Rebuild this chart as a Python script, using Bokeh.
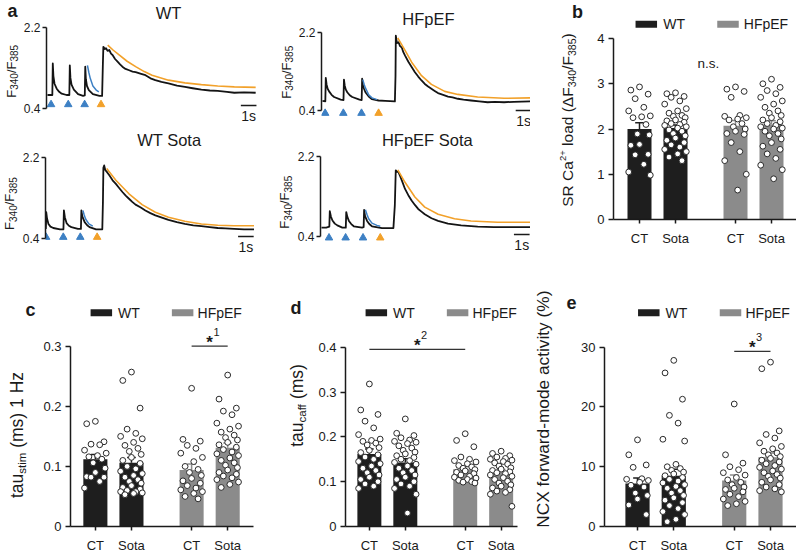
import math
from bokeh.plotting import figure
from bokeh.models import Range1d, FixedTicker, Label, NumeralTickFormatter
from bokeh.layouts import row, column
from bokeh.embed import file_html
from bokeh.resources import INLINE

# ======================= DATA =======================
GROUPS = ["WT", "HFpEF"]
TICK_LABELS = ["CT", "Sota", "CT", "Sota"]

# ---- panel a: Fura-2 ratio traces (time in s, ratio F340/F385) ----
WT_T = [0.00, 0.31, 0.34, 0.38, 0.45, 0.59, 0.75, 0.91, 1.22, 1.40,
        1.43, 1.47, 1.54, 1.69, 1.96, 2.28, 2.39, 2.42, 2.46, 2.53,
        2.65, 2.91, 3.33, 3.50, 3.55, 3.58, 3.67, 3.75, 3.85, 3.96,
        4.07, 4.17, 4.33, 4.49, 4.65, 4.80, 5.00, 5.23, 5.45, 5.65,
        6.00, 6.28, 6.60, 6.91, 7.30, 7.75, 8.30, 8.81, 9.30, 9.86,
        10.40, 10.91, 11.50, 11.97, 12.60, 13.34]
WT_R = [0.70, 0.70, 1.40, 1.12, 0.95, 0.84, 0.77, 0.73, 0.70, 0.70,
        1.36, 1.08, 0.93, 0.82, 0.72, 0.68, 0.69, 1.33, 1.05, 0.90,
        0.81, 0.72, 0.68, 0.68, 1.40, 1.77, 1.72, 1.74, 1.68, 1.70,
        1.62, 1.59, 1.50, 1.44, 1.38, 1.33, 1.28, 1.25, 1.22, 1.21,
        1.17, 1.14, 1.07, 1.03, 0.99, 0.96, 0.91, 0.88, 0.85, 0.82,
        0.80, 0.79, 0.77, 0.75, 0.76, 0.75]
WT_FIT1_T = [2.56, 2.65, 2.74, 2.91, 3.12, 3.29]
WT_FIT1_R = [1.36, 1.20, 1.07, 0.90, 0.81, 0.77]
WT_FIT2_T = [3.86, 4.20, 4.59, 5.10, 5.65, 6.20, 6.70, 7.75, 8.81, 9.86, 10.91, 11.97, 13.34]
WT_FIT2_R = [1.81, 1.70, 1.59, 1.45, 1.33, 1.22, 1.14, 1.03, 0.97, 0.93, 0.90, 0.88, 0.87]
WT_STIM = [0.23, 1.33, 2.38]
WT_CAFF = [3.43]

HF_T = [0.00, 0.18, 0.21, 0.26, 0.33, 0.42, 0.58, 0.74, 1.16, 1.34,
        1.37, 1.42, 1.49, 1.58, 1.74, 1.90, 2.36, 2.50, 2.53, 2.58,
        2.65, 2.74, 2.95, 3.16, 3.58, 4.00, 4.62, 4.66, 4.68, 4.75,
        4.85, 4.95, 5.06, 5.16, 5.27, 5.48, 5.69, 5.90, 6.11, 6.32,
        6.53, 6.74, 6.95, 7.16, 7.37, 7.70, 8.01, 8.30, 8.64, 9.00,
        9.48, 10.00, 10.54, 11.00, 11.59, 12.20, 13.30]
HF_R = [0.62, 0.61, 1.15, 1.00, 0.90, 0.84, 0.76, 0.71, 0.65, 0.64,
        1.11, 0.97, 0.88, 0.82, 0.75, 0.71, 0.65, 0.64, 1.13, 0.98,
        0.90, 0.82, 0.72, 0.66, 0.63, 0.62, 0.61, 1.20, 2.12, 1.95,
        1.97, 1.88, 1.85, 1.74, 1.66, 1.52, 1.40, 1.28, 1.18, 1.09,
        1.01, 0.95, 0.90, 0.85, 0.80, 0.76, 0.72, 0.70, 0.67, 0.65,
        0.63, 0.61, 0.59, 0.60, 0.59, 0.60, 0.61]
HF_FIT1_T = [2.57, 2.66, 2.74, 2.95, 3.16, 3.48]
HF_FIT1_R = [1.11, 1.00, 0.92, 0.76, 0.69, 0.65]
HF_FIT2_T = [4.80, 5.27, 5.69, 6.32, 6.95, 7.80, 8.64, 9.90, 11.59, 13.30]
HF_FIT2_R = [2.07, 1.78, 1.51, 1.20, 1.00, 0.84, 0.77, 0.71, 0.68, 0.69]
HF_STIM = [0.17, 1.33, 2.49]
HF_CAFF = [3.58]

WTS_T = [0.00, 0.01, 0.03, 0.08, 0.17, 0.30, 0.48, 0.91, 1.13, 1.16,
         1.22, 1.33, 1.48, 1.64, 2.06, 2.25, 2.28, 2.34, 2.49, 2.65,
         2.80, 3.22, 3.62, 3.66, 3.69, 3.74, 3.81, 3.95, 4.07, 4.28,
         4.49, 4.70, 4.91, 5.12, 5.33, 5.54, 5.75, 6.06, 6.38, 6.70,
         7.02, 7.44, 7.86, 8.40, 8.91, 9.45, 9.97, 10.50, 11.02, 11.50,
         12.07, 12.70, 13.34]
WTS_R = [0.62, 0.70, 0.99, 0.85, 0.73, 0.67, 0.64, 0.61, 0.61, 1.03,
         0.88, 0.75, 0.69, 0.66, 0.62, 0.62, 1.03, 0.90, 0.77, 0.70,
         0.66, 0.61, 0.61, 1.20, 1.98, 2.03, 1.93, 1.87, 1.81, 1.70,
         1.62, 1.53, 1.44, 1.36, 1.29, 1.22, 1.16, 1.10, 1.03, 0.97,
         0.92, 0.87, 0.82, 0.77, 0.73, 0.70, 0.68, 0.66, 0.64, 0.63,
         0.62, 0.61, 0.61]
WTS_FIT1_T = [2.38, 2.46, 2.55, 2.76, 3.01]
WTS_FIT1_R = [1.03, 0.93, 0.84, 0.73, 0.68]
WTS_FIT2_T = [3.90, 4.49, 5.33, 6.17, 7.02, 7.86, 8.91, 9.97, 11.02, 12.07, 13.34]
WTS_FIT2_R = [1.96, 1.70, 1.40, 1.16, 0.99, 0.88, 0.79, 0.73, 0.70, 0.69, 0.69]
WTS_STIM = [0.02, 1.12, 2.21]
WTS_CAFF = [3.29]

HFS_T = [0.00, 0.30, 0.50, 0.53, 0.60, 0.70, 0.85, 1.01, 1.33, 1.55,
         1.58, 1.65, 1.75, 1.90, 2.06, 2.59, 2.69, 2.72, 2.78, 2.91,
         3.05, 3.22, 3.86, 4.59, 4.68, 4.74, 4.80, 4.91, 5.02, 5.12,
         5.33, 5.54, 5.75, 5.96, 6.17, 6.38, 6.59, 7.02, 7.44, 8.07,
         8.91, 9.97, 11.00, 12.00, 13.34]
HFS_R = [0.60, 0.60, 0.62, 0.97, 0.85, 0.76, 0.69, 0.65, 0.60, 0.60,
         0.95, 0.84, 0.75, 0.68, 0.63, 0.60, 0.61, 1.00, 0.86, 0.75,
         0.68, 0.63, 0.59, 0.59, 1.10, 1.89, 1.86, 1.85, 1.76, 1.67,
         1.47, 1.33, 1.21, 1.11, 1.02, 0.96, 0.90, 0.81, 0.75, 0.69,
         0.65, 0.62, 0.61, 0.61, 0.61]
HFS_FIT1_T = [2.80, 2.91, 3.01, 3.22, 3.54, 3.75]
HFS_FIT1_R = [1.00, 0.89, 0.80, 0.70, 0.65, 0.63]
HFS_FIT2_T = [4.87, 5.33, 5.96, 6.59, 7.44, 8.49, 9.54, 11.23, 13.34]
HFS_FIT2_R = [1.90, 1.62, 1.29, 1.06, 0.90, 0.80, 0.75, 0.72, 0.72]
HFS_STIM = [0.48, 1.54, 2.65]
HFS_CAFF = [3.75]

SCALE_BAR_S = 1.0
TRACE_TICKS = [0.4, 2.2]

# ---- panel b: SR Ca2+ load ----
SR_MEAN = [2.00, 2.02, 2.07, 2.10]
SR_SEM = [0.14, 0.07, 0.12, 0.08]
SR_WT_CT = [2.93, 2.86, 2.77, 2.67, 2.48, 2.40, 2.29, 2.27, 2.25, 2.10,
            1.89, 1.87, 1.66, 1.64, 1.44, 1.43, 1.22, 1.05, 0.98]
SR_WT_SOTA = [2.80, 2.78, 2.72, 2.70, 2.62, 2.55, 2.45, 2.40, 2.35, 2.30,
              2.28, 2.25, 2.20, 2.18, 2.15, 2.12, 2.10, 2.08, 2.05, 2.02,
              1.98, 1.95, 1.90, 1.85, 1.80, 1.75, 1.70, 1.65, 1.60, 1.55,
              1.50, 1.45, 1.38, 1.30]
SR_HF_CT = [2.93, 2.88, 2.83, 2.70, 2.30, 2.28, 2.25, 2.22, 2.20, 2.12,
            2.05, 2.00, 1.95, 1.90, 1.88, 1.70, 1.50, 1.30, 1.00, 0.65]
SR_HF_SOTA = [3.10, 3.00, 2.92, 2.85, 2.78, 2.70, 2.62, 2.55, 2.48, 2.40,
              2.35, 2.30, 2.25, 2.20, 2.16, 2.12, 2.08, 2.05, 2.02, 2.00,
              1.95, 1.90, 1.85, 1.78, 1.70, 1.62, 1.55, 1.45, 1.35, 1.20,
              1.10, 0.90]
SR_TICKS = [0, 1, 2, 3, 4]

# ---- panel c: tau stim ----
TS_MEAN = [0.112, 0.106, 0.094, 0.131]
TS_SEM = [0.008, 0.009, 0.010, 0.008]
TS_WT_CT = [0.175, 0.171, 0.141, 0.137, 0.136, 0.127, 0.122, 0.118, 0.116, 0.112,
            0.106, 0.097, 0.090, 0.083, 0.082, 0.082, 0.075, 0.064]
TS_WT_SOTA = [0.257, 0.243, 0.197, 0.162, 0.155, 0.150, 0.146, 0.140, 0.135, 0.130,
              0.125, 0.120, 0.115, 0.110, 0.105, 0.100, 0.096, 0.092, 0.088, 0.085,
              0.082, 0.078, 0.075, 0.072, 0.068, 0.065, 0.062, 0.060, 0.058, 0.058,
              0.056, 0.055, 0.053]
TS_HF_CT = [0.230, 0.145, 0.142, 0.135, 0.130, 0.122, 0.115, 0.108, 0.100, 0.095,
            0.090, 0.085, 0.080, 0.076, 0.072, 0.068, 0.064, 0.061, 0.058, 0.055,
            0.050, 0.046]
TS_HF_SOTA = [0.252, 0.212, 0.197, 0.192, 0.186, 0.172, 0.167, 0.162, 0.157, 0.152,
              0.148, 0.144, 0.140, 0.136, 0.132, 0.128, 0.124, 0.121, 0.118, 0.114,
              0.110, 0.106, 0.102, 0.098, 0.094, 0.090, 0.087, 0.084, 0.081, 0.078,
              0.074, 0.070, 0.065]
TS_TICKS = [0, 0.1, 0.2, 0.3]

# ---- panel d: tau caff ----
TC_MEAN = [0.162, 0.143, 0.128, 0.121]
TC_SEM = [0.011, 0.008, 0.006, 0.006]
TC_WT_CT = [0.318, 0.260, 0.250, 0.235, 0.220, 0.205, 0.195, 0.192, 0.190, 0.186,
            0.182, 0.176, 0.170, 0.165, 0.160, 0.155, 0.150, 0.145, 0.140, 0.135,
            0.130, 0.125, 0.120, 0.115, 0.110, 0.105, 0.100, 0.095, 0.090, 0.085]
TC_WT_SOTA = [0.240, 0.208, 0.203, 0.198, 0.193, 0.190, 0.188, 0.185, 0.180, 0.175,
              0.170, 0.166, 0.162, 0.158, 0.154, 0.150, 0.147, 0.143, 0.139, 0.135,
              0.130, 0.125, 0.120, 0.115, 0.110, 0.105, 0.100, 0.095, 0.090, 0.085,
              0.072, 0.030]
TC_HF_CT = [0.207, 0.192, 0.178, 0.155, 0.150, 0.147, 0.144, 0.140, 0.136, 0.133,
            0.130, 0.127, 0.124, 0.121, 0.118, 0.115, 0.112, 0.110, 0.108, 0.105,
            0.103, 0.100, 0.099, 0.097]
TC_HF_SOTA = [0.168, 0.163, 0.158, 0.155, 0.152, 0.150, 0.148, 0.145, 0.142, 0.139,
              0.135, 0.131, 0.128, 0.125, 0.122, 0.120, 0.118, 0.115, 0.112, 0.109,
              0.105, 0.101, 0.097, 0.093, 0.090, 0.086, 0.082, 0.079, 0.076, 0.072,
              0.045]
TC_TICKS = [0, 0.1, 0.2, 0.3, 0.4]

# ---- panel e: NCX forward-mode activity ----
NCX_MEAN = [7.2, 8.5, 7.7, 11.6]
NCX_SEM = [0.9, 1.1, 0.9, 0.7]
NCX_WT_CT = [14.5, 12.0, 10.3, 9.9, 8.0, 7.9, 7.7, 7.4, 6.9, 6.6, 5.6, 5.2, 4.6, 3.6, 2.0]
NCX_WT_SOTA = [27.8, 25.7, 21.3, 18.6, 17.3, 14.6, 14.3, 10.4, 10.0, 9.7,
               9.4, 9.1, 8.8, 8.5, 8.2, 7.9, 7.6, 7.3, 7.0, 6.7,
               6.4, 6.0, 5.6, 5.2, 4.8, 4.4, 4.0, 3.5, 3.0, 2.5,
               2.0, 1.2, 0.8]
NCX_HF_CT = [20.5, 12.0, 10.6, 10.0, 9.5, 9.0, 8.6, 8.2, 7.8, 7.4,
             7.0, 6.6, 6.4, 6.2, 5.8, 5.4, 5.0, 4.6, 4.2, 3.8, 3.5]
NCX_HF_SOTA = [27.5, 26.4, 16.0, 15.4, 14.8, 14.0, 13.4, 13.0, 12.6, 12.3,
               12.0, 11.7, 11.4, 11.1, 10.8, 10.5, 10.2, 9.9, 9.6, 9.3,
               9.0, 8.7, 8.4, 8.1, 7.8, 7.4, 7.0, 6.6, 6.3, 6.0, 5.8]
NCX_TICKS = [0, 10, 20, 30]

# significance annotations: (bar i, bar j, height, footnote)
SIG_C = (2, 3, 0.300, "1")
SIG_D = (0, 2, 0.395, "2")
SIG_E = (2, 3, 29.3, "3")

# ======================= STYLE / LAYOUT =======================
SX = 1.0
SY = 1.0
FONT = "Liberation Sans"
INK = "#1a1a1a"
GROUP_COLORS = ["#1e1e1e", "#8b8b8b"]
BAR_COLORS = ["#1e1e1e", "#1e1e1e", "#8b8b8b", "#8b8b8b"]
TRACE_C = "#141414"
BLUE = "#3d80c4"
ORANGE = "#f2a12a"
PT_EDGE = "#2a2a2a"
GAP = 1.667
POS = [0.0, 1.0, 1.0 + GAP, 2.0 + GAP]
BAR_W = 0.667
CAP = 0.12
PX_PER_S = 15.82
JIT = [0.00, -0.24, 0.24, -0.12, 0.12, -0.30, 0.30, 0.06, -0.18, 0.18, -0.06, 0.27]

W_EM = {' ': .278, '(': .333, ')': .333, '/': .278, '%': .889, '+': .584, '-': .333, '.': .278,
        'C': .722, 'E': .667, 'F': .611, 'H': .722, 'N': .722, 'R': .722, 'S': .667, 'T': .611,
        'W': .944, 'X': .667, 'Δ': .668, 'a': .556, 'c': .5, 'd': .556, 'e': .556, 'f': .278,
        'i': .222, 'l': .222, 'm': .833, 'o': .556, 'p': .556, 'r': .333, 's': .5, 't': .278,
        'u': .556, 'v': .5, 'w': .722, 'y': .5, 'z': .5}


def tw(s, fs):
    return sum(W_EM.get(c, 0.556) for c in s) * fs


def lin(p0, v0, p1, v1, p):
    return v0 + (p - p0) * (v1 - v0) / (p1 - p0)


def style_axis(ax, standoff, size="13px"):
    ax.axis_line_color = INK
    ax.axis_line_width = 1.5
    ax.major_tick_line_color = INK
    ax.major_tick_line_width = 1.5
    ax.major_tick_in = 0
    ax.minor_tick_line_color = None
    ax.major_label_text_font = FONT
    ax.major_label_text_font_size = size
    ax.major_label_text_color = INK
    ax.major_label_standoff = standoff


def mk_label(x, y, s, fs, align="center", baseline="middle", bold=False, angle=0.0, xo=0.0, yo=0.0):
    return Label(x=x, y=y, text=s, text_font=FONT, text_font_size=f"{fs:.1f}px",
                 text_align=align, text_baseline=baseline,
                 text_font_style="bold" if bold else "normal",
                 text_color=INK, angle=angle, x_offset=xo, y_offset=yo)


class Panel:
    """A label strip (panel letter and y-axis title) next to the plotting figure."""

    def __init__(self, X0, Y0, W, H, S, L, B, xanch, yanch, x_axis=False, y0=None):
        self.X0, self.Y0, self.S, self.H = X0, Y0, S, H
        strip = figure(width=S, height=H, x_range=Range1d(0, S), y_range=Range1d(H, 0),
                       output_backend="svg", toolbar_location=None, tools="", title=None,
                       x_axis_type=None, y_axis_type=None, min_border=0)
        strip.outline_line_color = None
        strip.grid.visible = False
        strip.background_fill_color = "white"
        strip.border_fill_color = "white"
        self.strip = strip
        MX = X0 + S
        MW, ML = W - S, L - S
        (a, av), (b, bv) = xanch
        (c, cv), (d, dv) = yanch
        self.MX = MX
        self.xm = (a * SX - MX, av, b * SX - MX, bv)
        self.ym = (c * SY - Y0, cv, d * SY - Y0, dv)
        xs, xe = lin(*self.xm, ML), lin(*self.xm, MW)
        ys, ye = lin(*self.ym, H - B), lin(*self.ym, 0)
        if y0 is not None:
            ys = y0
        p = figure(width=MW, height=H, x_range=Range1d(xs, xe), y_range=Range1d(ys, ye),
                   output_backend="svg", toolbar_location=None, tools="", title=None,
                   x_axis_type="linear" if x_axis else None,
                   min_border=0, min_border_left=ML, min_border_right=0,
                   min_border_top=0, min_border_bottom=B)
        p.outline_line_color = None
        p.grid.visible = False
        p.background_fill_color = "white"
        p.border_fill_color = "white"
        self.p = p
        self.layout = row(strip, p)

    def dx(self, xr):
        return lin(*self.xm, xr * SX - self.MX)

    def dy(self, yr):
        return lin(*self.ym, yr * SY - self.Y0)

    def text_data(self, x, y, s, fs, **kw):
        self.p.add_layout(mk_label(x, y, s, fs, **kw))

    def text(self, xr, yr, s, fs, **kw):
        self.text_data(self.dx(xr), self.dy(yr), s, fs, **kw)

    def strip_text(self, xr, yr, s, fs, **kw):
        self.strip.add_layout(mk_label(xr * SX - self.X0, yr * SY - self.Y0, s, fs, **kw))

    def vtext(self, xr, yr, parts, vshift=0.0):
        # rotated (bottom-to-top) label made of normal / subscript / superscript pieces,
        # placed with screen-pixel offsets from one anchor; vshift moves it down (px)
        main = max(fs for _, fs, _ in parts)
        total = sum(tw(s, fs) for s, fs, _ in parts)
        cum = -total / 2.0
        for s, fs, kind in parts:
            if kind == "sub":
                shift = 0.52 * main - 0.36 * fs
            elif kind == "sup":
                shift = -0.30 * main
            else:
                shift = 0.0
            lead = len(s) - len(s.lstrip(" "))
            self.strip_text(xr, yr, s.strip(" "), fs, align="left", baseline="middle",
                            angle=math.pi / 2, xo=shift, yo=cum + tw(" " * lead, fs) - vshift)
            cum += tw(s, fs)


def trace_panel(X0, Y0, W, H, S, ax_ref, t0_ref, y22_ref, y04_ref, T, R, f1t, f1r, f2t, f2r,
                stim, caff, title, title_xy, ylab_xy, tri_yref, sb_start, sb_yref, sb_txt_yref,
                letter=None):
    L = round(ax_ref * SX - X0)
    pan = Panel(X0, Y0, W, H, S, L, 0, ((t0_ref, 0.0), (t0_ref + PX_PER_S, 1.0)),
                ((y22_ref, TRACE_TICKS[1]), (y04_ref, TRACE_TICKS[0])))
    p = pan.p
    p.line(T, R, line_color=TRACE_C, line_width=1.8, line_join="round")
    p.line(f1t, f1r, line_color=BLUE, line_width=1.5, line_join="round")
    p.line(f2t, f2r, line_color=ORANGE, line_width=1.6, line_join="round")
    ty = pan.dy(tri_yref)
    p.scatter(stim, [ty] * len(stim), marker="triangle", size=7.5, color=BLUE)
    p.scatter(caff, [ty] * len(caff), marker="triangle", size=7.5, color=ORANGE)
    sy = pan.dy(sb_yref)
    p.segment(x0=[sb_start], y0=[sy], x1=[sb_start + SCALE_BAR_S], y1=[sy],
              line_color=INK, line_width=1.5)
    pan.text_data(sb_start + SCALE_BAR_S / 2, pan.dy(sb_txt_yref), "1s", 14)
    p.yaxis.ticker = FixedTicker(ticks=TRACE_TICKS)
    p.yaxis.bounds = (TRACE_TICKS[0], TRACE_TICKS[1])
    p.yaxis.formatter = NumeralTickFormatter(format="0.0")
    style_axis(p.yaxis, 2, "12px")
    p.yaxis.major_tick_out = 4
    pan.text(title_xy[0], title_xy[1], title, 16.5)
    pan.vtext(ylab_xy[0], ylab_xy[1], [("F", 13, "n"), ("340", 10, "sub"),
                                       ("/F", 13, "n"), ("385", 10, "sub")])
    if letter:
        pan.strip_text(letter[1], letter[2], letter[0], 18, bold=True)
    return pan.layout


def bar_panel(X0, Y0, W, H, S, B, ax_ref, cat0_ref, cat3_ref, base_ref, top_ref, yticks,
              means, sems, pts, letter, letter_xy, leg_y, leg_sw, leg_tx, ylab_xy, ylab_parts,
              xbound_ref=None, sig=None, ns=None, ylab_shift=0.0):
    L = round(ax_ref * SX - X0)
    pan = Panel(X0, Y0, W, H, S, L, B, ((cat0_ref, POS[0]), (cat3_ref, POS[3])),
                ((base_ref, 0.0), (top_ref, yticks[-1])), x_axis=True, y0=0.0)
    p = pan.p
    p.vbar(x=POS, top=means, width=BAR_W, color=BAR_COLORS, line_color=None)
    tops = [m + s for m, s in zip(means, sems)]
    p.segment(x0=POS, y0=means, x1=POS, y1=tops, line_color=BAR_COLORS, line_width=1.5)
    p.segment(x0=[x - CAP for x in POS], y0=tops, x1=[x + CAP for x in POS], y1=tops,
              line_color=BAR_COLORS, line_width=1.5)
    xs, ys = [], []
    for i, vals in enumerate(pts):
        for k, v in enumerate(vals):
            xs.append(POS[i] + JIT[k % len(JIT)])
            ys.append(v)
    p.scatter(xs, ys, size=5.8, fill_color="white", line_color=PT_EDGE, line_width=1.0)

    p.yaxis.ticker = FixedTicker(ticks=yticks)
    p.yaxis.bounds = (0, yticks[-1])
    p.yaxis.formatter = NumeralTickFormatter(format="0.[0]")
    style_axis(p.yaxis, 4)
    p.yaxis.major_tick_out = 5
    p.xaxis.ticker = FixedTicker(ticks=POS)
    p.xaxis.major_label_overrides = {POS[i]: TICK_LABELS[i] for i in range(4)}
    style_axis(p.xaxis, 7)
    p.xaxis.major_tick_out = 4
    if xbound_ref is not None:
        p.xaxis.bounds = (p.x_range.start, pan.dx(xbound_ref))

    # legend
    ly = pan.dy(leg_y)
    for g in range(2):
        p.rect(x=[pan.dx(leg_sw[g])], y=[ly], width=21.5, height=7, width_units="screen",
               height_units="screen", color=GROUP_COLORS[g], line_color=None)
        pan.text_data(pan.dx(leg_tx[g]), ly, GROUPS[g], 14, align="left")

    pan.strip_text(letter_xy[0], letter_xy[1], letter, 18, bold=True)
    pan.vtext(ylab_xy[0], ylab_xy[1], ylab_parts, vshift=ylab_shift)

    if sig is not None:
        i, j, h, note = sig
        p.segment(x0=[POS[i]], y0=[h], x1=[POS[j]], y1=[h], line_color="#333333", line_width=1.2)
        mid = (POS[i] + POS[j]) / 2.0
        pan.text_data(mid, h, "*", 17, baseline="alphabetic", bold=True, yo=3.5)
        pan.text_data(mid, h, note, 11, xo=6.8, yo=14.5)
    if ns is not None:
        pan.text(ns[0], ns[1], "n.s.", 13.5)
    return pan.layout


# ---- panel a ----
fWT = trace_panel(0, 0, 265, 128, 20, 43, 44, 27, 108, WT_T, WT_R, WT_FIT1_T, WT_FIT1_R,
                  WT_FIT2_T, WT_FIT2_R, WT_STIM, WT_CAFF, "WT", (166.7, 12.8), (10.5, 70.8),
                  104, 12.39, 105, 115.8, letter=("a", 12.0, 10))
fHF = trace_panel(265, 0, 265, 128, 30, 319, 320, 31.7, 110, HF_T, HF_R, HF_FIT1_T, HF_FIT1_R,
                  HF_FIT2_T, HF_FIT2_R, HF_STIM, HF_CAFF, "HFpEF", (427, 18.5), (285.5, 71.7),
                  112.7, 12.33, 110, 120.8)
fWTS = trace_panel(0, 128, 265, 147, 19, 41.7, 42.3, 157.3, 238.3, WTS_T, WTS_R, WTS_FIT1_T,
                   WTS_FIT1_R, WTS_FIT2_T, WTS_FIT2_R, WTS_STIM, WTS_CAFF, "WT Sota",
                   (167.5, 139.5), (9.3, 203), 236.7, 12.32, 236, 246.2)
fHFS = trace_panel(265, 128, 265, 147, 29, 318.3, 319, 156, 236, HFS_T, HFS_R, HFS_FIT1_T,
                   HFS_FIT1_R, HFS_FIT2_T, HFS_FIT2_R, HFS_STIM, HFS_CAFF, "HFpEF Sota",
                   (425.8, 139.5), (284.0, 201.7), 237.3, 12.28, 234, 244.5)

# ---- panel b ----
fB = bar_panel(530, 0, 266, 275, 60, 56, 613, 639, 771, 219, 38, SR_TICKS, SR_MEAN, SR_SEM,
               [SR_WT_CT, SR_WT_SOTA, SR_HF_CT, SR_HF_SOTA], "b", (577, 14), 23.7,
               (645.8, 727.5), (662.7, 743.3), (567.4, 125),
               [("SR Ca", 15.5, "n"), ("2+", 9.5, "sup"), (" load (ΔF", 15.5, "n"), ("340", 10.5, "sub"),
                ("/F", 15.5, "n"), ("385", 10.5, "sub"), (")", 15.5, "n")],
               ns=(707.8, 63.3), ylab_shift=20)

# ---- panel c ----
fC = bar_panel(0, 275, 265, 280, 40, 28, 69, 94, 227, 527, 346, TS_TICKS, TS_MEAN, TS_SEM,
               [TS_WT_CT, TS_WT_SOTA, TS_HF_CT, TS_HF_SOTA], "c", (30, 313.8), 312.5,
               (100, 181.7), (116.7, 196.7), (16.7, 434),
               [("tau", 17.5, "n"), ("stim", 11.5, "sub"), (" (ms) 1 Hz", 17.5, "n")],
               xbound_ref=253, sig=SIG_C, ylab_shift=17)

# ---- panel d ----
fD = bar_panel(265, 275, 265, 280, 50, 28, 344, 368, 500.5, 527, 347, TC_TICKS, TC_MEAN, TC_SEM,
               [TC_WT_CT, TC_WT_SOTA, TC_HF_CT, TC_HF_SOTA], "d", (295.5, 311), 312.5,
               (375, 456.7), (391.7, 471.7), (296.7, 420),
               [("tau", 17.5, "n"), ("caff", 11.5, "sub"), (" (ms)", 17.5, "n")],
               xbound_ref=517, sig=SIG_D)

# ---- panel e ----
fE = bar_panel(530, 275, 266, 280, 48, 28, 604, 637, 770, 527, 347, NCX_TICKS, NCX_MEAN, NCX_SEM,
               [NCX_WT_CT, NCX_WT_SOTA, NCX_HF_CT, NCX_HF_SOTA], "e", (571, 304.7), 312.5,
               (648.3, 730), (665, 745), (542.3, 424),
               [("NCX forward-mode activity (%)", 17.3, "n")],
               sig=SIG_E, ylab_shift=0)

layout = column(
    row(column(row(fWT, fHF), row(fWTS, fHFS)), fB),
    row(fC, fD, fE),
)

open("out.html", "w").write(file_html(layout, INLINE))
